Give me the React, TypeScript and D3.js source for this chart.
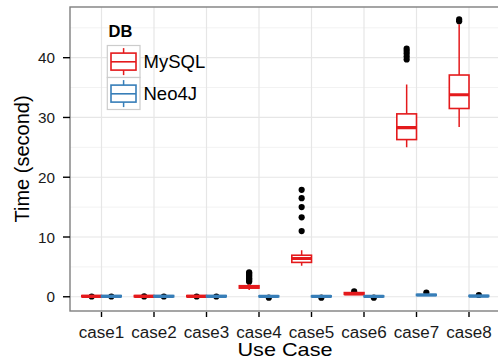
import React from "react";
import * as d3 from "d3";

const cases = ["case1", "case2", "case3", "case4", "case5", "case6", "case7", "case8"];
const dbs = ["MySQL", "Neo4J"];
const dbColors = ["#E41A1C", "#377EB8"];

// [lower whisker, q1, median, q3, upper whisker] per case
const mysqlStats = [
  [0.0, 0.0, 0.08, 0.2, 0.25],
  [0.0, 0.0, 0.08, 0.2, 0.25],
  [0.0, 0.0, 0.08, 0.2, 0.25],
  [1.15, 1.45, 1.6, 1.85, 2.15],
  [5.2, 5.75, 6.4, 6.95, 7.8],
  [0.35, 0.4, 0.5, 0.7, 0.75],
  [25.0, 26.3, 28.3, 30.6, 35.5],
  [28.4, 31.5, 33.8, 37.1, 45.6],
];
const mysqlOutliers = [
  [0.05],
  [0.06],
  [0.05],
  [2.5, 2.7, 2.9, 3.1, 3.3, 3.5, 3.7, 3.9, 4.1],
  [11.0, 13.3, 15.0, 16.5, 17.9],
  [0.9],
  [39.7, 40.2, 40.7, 41.1, 41.5],
  [46.1, 46.4],
];
const neo4jStats = [
  [0.0, 0.0, 0.08, 0.2, 0.25],
  [0.0, 0.0, 0.08, 0.2, 0.25],
  [0.0, 0.0, 0.08, 0.2, 0.25],
  [-0.05, 0.0, 0.06, 0.15, 0.2],
  [-0.05, 0.0, 0.06, 0.15, 0.2],
  [-0.05, 0.0, 0.06, 0.15, 0.2],
  [0.2, 0.22, 0.3, 0.4, 0.45],
  [0.05, 0.06, 0.12, 0.22, 0.25],
];
const neo4jOutliers = [[0.05], [0.05], [0.05], [-0.15], [-0.15], [-0.15], [0.7], [0.3]];

const yTicks = [0, 10, 20, 30, 40];
const yMinor = [5, 15, 25, 35, 45];

const W = 498, H = 364;
const panel = { left: 70, right: 500.5, top: 7, bottom: 311 };
const font = "'Liberation Sans', Arial, Helvetica, sans-serif";

export default function App() {
  const x = d3.scalePoint<string>().domain(cases).range([panel.left, panel.right]).padding(0.6);
  const y = d3.scaleLinear().domain([-2.38, 48.48]).range([panel.bottom, panel.top]);
  const step = x.step();
  const boxW = step * 0.375;
  const offs = [-step * 0.1875, step * 0.1875];

  const series = [
    { stats: mysqlStats, outliers: mysqlOutliers },
    { stats: neo4jStats, outliers: neo4jOutliers },
  ];

  return (
    <svg width={W} height={H} style={{ position: "absolute", left: 0, top: 0, fontFamily: font }}>
      <rect x={0} y={0} width={W} height={H} fill="#fff" />
      <defs>
        <clipPath id="pc">
          <rect x={panel.left} y={panel.top} width={panel.right - panel.left} height={panel.bottom - panel.top} />
        </clipPath>
      </defs>
      <g clipPath="url(#pc)">
        {yMinor.map(t => (
          <line key={"m" + t} x1={panel.left} x2={panel.right} y1={y(t)} y2={y(t)} stroke="#f2f2f2" strokeWidth={1} />
        ))}
        {yTicks.map(t => (
          <line key={"g" + t} x1={panel.left} x2={panel.right} y1={y(t)} y2={y(t)} stroke="#e6e6e6" strokeWidth={1.2} />
        ))}
        {cases.map(c => (
          <line key={"v" + c} x1={x(c)} x2={x(c)} y1={panel.top} y2={panel.bottom} stroke="#e6e6e6" strokeWidth={1.2} />
        ))}
        {series.map((s, si) =>
          cases.map((c, ci) => {
            const cx = (x(c) as number) + offs[si];
            const [lo, q1, med, q3, hi] = s.stats[ci];
            const col = dbColors[si];
            return (
              <g key={si + c}>
                {s.outliers[ci].map((o, oi) => (
                  <circle key={oi} cx={cx} cy={y(o)} r={3.1} fill="#000" />
                ))}
                <line x1={cx} x2={cx} y1={y(hi)} y2={y(q3)} stroke={col} strokeWidth={1.5} />
                <line x1={cx} x2={cx} y1={y(q1)} y2={y(lo)} stroke={col} strokeWidth={1.5} />
                <rect x={cx - boxW / 2} y={y(q3)} width={boxW} height={Math.max(0, y(q1) - y(q3))}
                  fill="#fff" stroke={col} strokeWidth={1.6} />
                <line x1={cx - boxW / 2} x2={cx + boxW / 2} y1={y(med)} y2={y(med)} stroke={col} strokeWidth={3.2} />
              </g>
            );
          })
        )}
      </g>
      <rect x={panel.left} y={panel.top} width={panel.right - panel.left} height={panel.bottom - panel.top}
        fill="none" stroke="#7f7f7f" strokeWidth={1.4} />

      {/* y axis */}
      {yTicks.map(t => (
        <g key={"yt" + t}>
          <line x1={panel.left - 7} x2={panel.left} y1={y(t)} y2={y(t)} stroke="#000" strokeWidth={1.4} />
          <text x={55} y={y(t)} dy="0.36em" textAnchor="end" fontSize={15.3} fill="#1a1a1a">{t}</text>
        </g>
      ))}
      <text transform={`translate(29,${(panel.top + panel.bottom) / 2}) rotate(-90)`} textAnchor="middle"
        fontSize={20} fill="#000">Time (second)</text>

      {/* x axis */}
      {cases.map(c => (
        <g key={"xt" + c}>
          <line x1={x(c)} x2={x(c)} y1={panel.bottom + 1} y2={panel.bottom + 6} stroke="#000" strokeWidth={1.4} />
          <text x={x(c)} y={337.5} textAnchor="middle" fontSize={15.8} textLength={45.5} lengthAdjust="spacingAndGlyphs"
            fill="#1a1a1a">{c}</text>
        </g>
      ))}
      <text x={285} y={356} textAnchor="middle" fontSize={18.5} textLength={95} lengthAdjust="spacingAndGlyphs"
        fill="#000">Use Case</text>

      {/* legend */}
      <text x={108.5} y={37.3} fontSize={16.5} fontWeight="bold" fill="#000">DB</text>
      {dbs.map((d, i) => {
        const ky = 45.5 + i * 32;
        const kx = 107.3;
        const cx = kx + 16.3;
        const col = dbColors[i];
        return (
          <g key={d}>
            <rect x={kx} y={ky} width={32.7} height={32} fill="#fff" stroke="#cccccc" strokeWidth={1.2} />
            <line x1={cx} x2={cx} y1={ky + 2.6} y2={ky + 29.6} stroke={col} strokeWidth={1.5} />
            <rect x={kx + 3.7} y={ky + 7.6} width={25} height={17} fill="#fff" stroke={col} strokeWidth={1.6} />
            <line x1={kx + 3.7} x2={kx + 28.7} y1={ky + 16.3} y2={ky + 16.3} stroke={col} strokeWidth={1.6} />
            <text x={143.5} y={68.3 + i * 31.8} fontSize={18.5} fill="#000">{d}</text>
          </g>
        );
      })}
    </svg>
  );
}
